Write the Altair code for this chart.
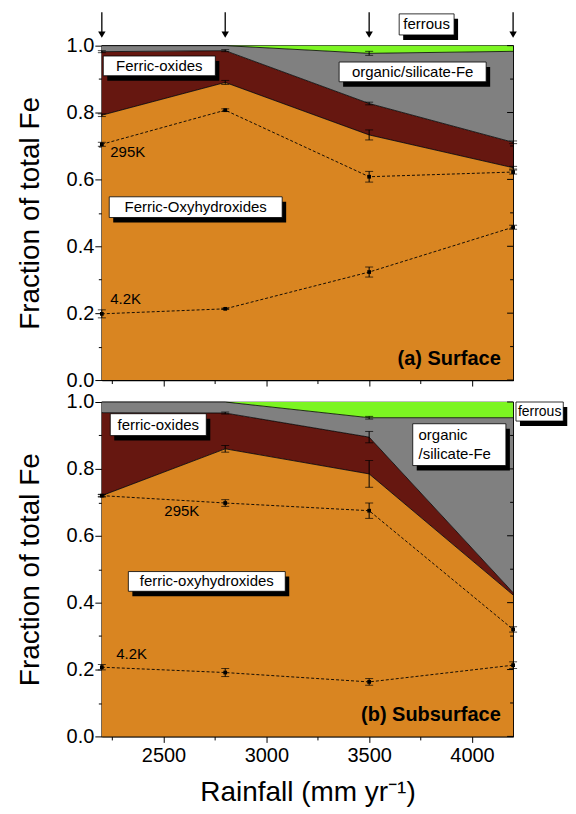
import altair as alt
import pandas as pd

rainfall = [2200, 2800, 3500, 4200]
arrow_rainfall = [2200, 2800, 3500, 4200]

# (a) Surface - cumulative upper edges of each Fe pool
surf_oxyhydroxide_top = [0.792, 0.890, 0.733, 0.635]
surf_oxide_top = [0.982, 0.985, 0.827, 0.711]
surf_organic_top = [1.0, 1.0, 0.977, 0.983]
surf_oxyhydroxide_err = [0.004, 0.006, 0.015, 0.004]
surf_oxide_err = [0.003, 0.003, 0.004, 0.004]
surf_organic_err = [0.0, 0.0, 0.006, 0.0]
surf_295K = [0.705, 0.807, 0.608, 0.622]
surf_295K_err = [0.006, 0.004, 0.016, 0.006]
surf_4K = [0.198, 0.213, 0.323, 0.457]
surf_4K_err = [0.012, 0.002, 0.015, 0.006]

# (b) Subsurface
sub_oxyhydroxide_top = [0.720, 0.860, 0.785, 0.423]
sub_oxide_top = [0.968, 0.967, 0.895, 0.430]
sub_organic_top = [1.0, 1.0, 0.953, 0.953]
sub_oxyhydroxide_err = [0.003, 0.010, 0.040, 0.0]
sub_oxide_err = [0.0, 0.003, 0.017, 0.0]
sub_organic_err = [0.0, 0.0, 0.004, 0.0]
sub_295K = [0.720, 0.698, 0.675, 0.320]
sub_295K_err = [0.004, 0.010, 0.023, 0.008]
sub_4K = [0.207, 0.191, 0.163, 0.213]
sub_4K_err = [0.008, 0.012, 0.010, 0.010]

# annotations: boxed labels (text, x1, x2, y1, y2)
surf_box_text = ["Ferric-oxides", "organic/silicate-Fe", "ferrous", "Ferric-Oxyhydroxides"]
surf_box_x1 = [2207, 3354, 3646, 2236]
surf_box_x2 = [2752, 4069, 3913, 3077]
surf_box_y1 = [0.969, 0.951, 1.095, 0.548]
surf_box_y2 = [0.910, 0.892, 1.032, 0.486]
surf_box_font = [15, 15, 15, 15]
surf_note_text = ["295K", "4.2K"]
surf_note_x = [2241, 2241]
surf_note_y = [0.683, 0.241]
surf_panel_label = "(a) Surface"

sub_box_text = ["ferric-oxides", "", "ferrous", "ferric-oxyhydroxides"]
sub_box_x1 = [2241, 3712, 4214, 2329]
sub_box_x2 = [2708, 4165, 4444, 3092]
sub_box_y1 = [0.965, 0.935, 1.000, 0.493]
sub_box_y2 = [0.8995, 0.810, 0.943, 0.434]
sub_box_font = [15, 15, 14, 15]
sub_note_text = ["295K", "4.2K", "organic", "/silicate-Fe"]
sub_note_x = [2504, 2270, 3740, 3740]
sub_note_y = [0.673, 0.246, 0.902, 0.845]
sub_panel_label = "(b) Subsurface"

COLORS = {"oxyhyd": "#D98521", "oxide": "#661710", "organic": "#808080", "ferrous": "#7CF522"}
FONT = "Liberation Sans"
W, H = 412, 335

xs = alt.Scale(domain=[2200, 4200], nice=False, zero=False)
ys = alt.Scale(domain=[0, 1], nice=False)

y_values = [round(i * 0.1, 1) for i in range(11)]
x_values = [2250, 2500, 2750, 3000, 3250, 3500, 3750, 4000]


def make_axes(x_labels):
    yaxis = alt.Axis(
        values=y_values,
        labelExpr="round(datum.value*10) % 2 == 0 ? format(datum.value, '.1f') : ''",
        tickSize={"condition": {"test": "round(datum.value*10) % 2 == 0", "value": 7}, "value": 3.5},
        labelPadding=1, titlePadding=22, title="Fraction of total Fe",
        labelOverlap=False, labelFlush=False, grid=False,
    )
    if x_labels:
        xaxis = alt.Axis(
            values=x_values,
            labelExpr="datum.value % 500 == 0 ? format(datum.value, 'd') : ''",
            tickSize={"condition": {"test": "datum.value % 500 == 0", "value": 6}, "value": 3.5},
            labelPadding=3, titlePadding=13, title="Rainfall (mm yr\u207b\u00b9)",
            labelOverlap=False, labelFlush=False, grid=False,
        )
    else:
        xaxis = alt.Axis(
            values=x_values, labels=False, title=None,
            tickSize={"condition": {"test": "datum.value % 500 == 0", "value": 6}, "value": 3.5},
            grid=False,
        )
    return xaxis, yaxis


def panel(oxy, oxide, org, oxy_e, oxide_e, org_e, t295, e295, t4, e4,
          box_text, bx1, bx2, by1, by2, bfont, note_text, note_x, note_y, label, x_labels, arrows):
    xaxis, yaxis = make_axes(x_labels)

    def X(f):
        return alt.X(f"{f}:Q", scale=xs, axis=xaxis)

    def Y(f):
        return alt.Y(f"{f}:Q", scale=ys, axis=yaxis, stack=None)

    # stacked areas
    rows = []
    for i, x in enumerate(rainfall):
        edges = [0.0, oxy[i], oxide[i], org[i], 1.0]
        for k, comp in enumerate(["oxyhyd", "oxide", "organic", "ferrous"]):
            rows.append({"x": x, "lo": edges[k], "hi": edges[k + 1], "comp": comp})
    area_df = pd.DataFrame(rows)
    areas = alt.Chart(area_df).mark_area(interpolate="linear").encode(
        x=X("x"), y=Y("lo"), y2="hi:Q",
        color=alt.Color("comp:N", scale=alt.Scale(domain=list(COLORS.keys()), range=list(COLORS.values())), legend=None),
    )

    # boundary lines
    brows = []
    for name, arr in [("b1", oxy), ("b2", oxide), ("b3", org)]:
        for x, v in zip(rainfall, arr):
            brows.append({"x": x, "y": v, "edge": name})
    bounds = alt.Chart(pd.DataFrame(brows)).mark_line(color="black", strokeWidth=0.8).encode(
        x=X("x"), y=Y("y"), detail="edge:N")

    # temperature lines
    trows = []
    for name, arr in [("295K", t295), ("4.2K", t4)]:
        for x, v in zip(rainfall, arr):
            trows.append({"x": x, "y": v, "series": name})
    tdf = pd.DataFrame(trows)
    tlines = alt.Chart(tdf).mark_line(color="black", strokeWidth=0.9, strokeDash=[3, 2]).encode(
        x=X("x"), y=Y("y"), detail="series:N")
    tpts = alt.Chart(tdf).mark_point(shape="square", filled=True, color="black", size=14, opacity=1).encode(
        x=X("x"), y=Y("y"))

    # error bars
    erows = []
    for cen, err in [(oxy, oxy_e), (oxide, oxide_e), (org, org_e), (t295, e295), (t4, e4)]:
        for x, c, e in zip(rainfall, cen, err):
            if e > 0:
                erows.append({"x": x, "lo": c - e, "hi": c + e})
    edf = pd.DataFrame(erows)
    ebars = alt.Chart(edf).mark_rule(color="black", strokeWidth=1).encode(x=X("x"), y=Y("lo"), y2="hi:Q")
    crows = [{"x": r["x"], "y": r["lo"]} for r in erows] + [{"x": r["x"], "y": r["hi"]} for r in erows]
    caps = alt.Chart(pd.DataFrame(crows)).mark_tick(orient="horizontal", size=8, thickness=1, color="black").encode(
        x=X("x"), y=Y("y"))

    # right-side inward ticks
    rt = pd.DataFrame({"y": y_values, "major": [round(v * 10) % 2 == 0 for v in y_values]})
    rmaj = alt.Chart(rt[rt["major"]]).mark_rule(color="black", strokeWidth=1).encode(
        x=alt.value(W), x2=alt.value(W - 6), y=Y("y"))
    rmin = alt.Chart(rt[~rt["major"]]).mark_rule(color="black", strokeWidth=1).encode(
        x=alt.value(W), x2=alt.value(W - 3), y=Y("y"))

    # boxed labels
    bdf = pd.DataFrame({"text": box_text, "x1": bx1, "x2": bx2, "y1": by1, "y2": by2, "fs": bfont})
    bdf["xc"] = (bdf["x1"] + bdf["x2"]) / 2
    bdf["yc"] = (bdf["y1"] + bdf["y2"]) / 2
    shadow = alt.Chart(bdf).mark_rect(color="black", xOffset=4, x2Offset=4, yOffset=5, y2Offset=5).encode(
        x=X("x1"), x2="x2:Q", y=Y("y1"), y2="y2:Q")
    boxes = alt.Chart(bdf).mark_rect(fill="white", stroke="black", strokeWidth=0.8).encode(
        x=X("x1"), x2="x2:Q", y=Y("y1"), y2="y2:Q")
    btext = alt.Chart(bdf).mark_text(font=FONT, align="center", baseline="middle", color="black").encode(
        x=X("xc"), y=Y("yc"), text="text:N", size=alt.Size("fs:Q", scale=None, legend=None))

    ndf = pd.DataFrame({"text": note_text, "x": note_x, "y": note_y})
    ntext = alt.Chart(ndf).mark_text(font=FONT, fontSize=15, align="left", baseline="middle",
                                     color="black").encode(
        x=X("x"), y=Y("y"), text="text:N")

    ldf = pd.DataFrame({"text": [label], "x": [4140], "y": [0.063]})
    ltext = alt.Chart(ldf).mark_text(font=FONT, fontSize=20, fontWeight="bold", align="right",
                                     baseline="middle", color="black").encode(
        x=X("x"), y=Y("y"), text="text:N")

    layers = [areas, bounds, tlines, tpts, ebars, caps, rmaj, rmin, shadow, boxes, btext, ntext, ltext]

    if arrows:
        adf = pd.DataFrame({"x": arrow_rainfall, "top": [1.10] * 4, "bot": [1.035] * 4, "tip": [1.033] * 4})
        ashaft = alt.Chart(adf).mark_rule(color="black", strokeWidth=1.3).encode(x=X("x"), y=Y("top"), y2="bot:Q")
        ahead = alt.Chart(adf).mark_point(shape="triangle-down", filled=True, color="black", size=55, opacity=1).encode(
            x=X("x"), y=Y("tip"))
        layers += [ashaft, ahead]

    return alt.layer(*layers).properties(width=W, height=H)


top = panel(surf_oxyhydroxide_top, surf_oxide_top, surf_organic_top,
            surf_oxyhydroxide_err, surf_oxide_err, surf_organic_err,
            surf_295K, surf_295K_err, surf_4K, surf_4K_err,
            surf_box_text, surf_box_x1, surf_box_x2, surf_box_y1, surf_box_y2, surf_box_font,
            surf_note_text, surf_note_x, surf_note_y, surf_panel_label, False, True)

bottom = panel(sub_oxyhydroxide_top, sub_oxide_top, sub_organic_top,
               sub_oxyhydroxide_err, sub_oxide_err, sub_organic_err,
               sub_295K, sub_295K_err, sub_4K, sub_4K_err,
               sub_box_text, sub_box_x1, sub_box_x2, sub_box_y1, sub_box_y2, sub_box_font,
               sub_note_text, sub_note_x, sub_note_y, sub_panel_label, True, False)

chart = alt.vconcat(top, bottom, spacing=0).properties(
    padding={"left": 7, "top": 2, "right": 0, "bottom": 0}
).configure_view(
    stroke="black", strokeWidth=1.2
).configure_axis(
    labelFont=FONT, titleFont=FONT, labelFontSize=20, titleFontSize=28,
    titleFontWeight="normal", labelColor="black", titleColor="black",
    tickColor="black", domainColor="black", domainWidth=1.2, tickWidth=1,
).configure_axisX(labelFontSize=20)

chart.save("out.html", embed_options={"renderer": "svg", "actions": False})
